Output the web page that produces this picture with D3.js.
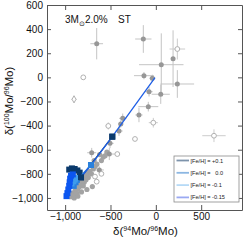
<!DOCTYPE html>
<html lang="en">
  <head>
    <meta charset="utf-8" />
    <title>Mo isotopes: 3Msun 2.0% ST</title>
    <script src="https://d3js.org/d3.v7.min.js"></script>
    <style type="text/css">
      body { margin: 0; background: #fff; }
      text { font-family: "Liberation Sans", Arial, sans-serif; }
    </style>
  </head>
  <body>
    <script type="text/javascript">
      //Width and height
      const w = 249;
      const h = 240;

      // axis ticks
      const xTicks = [-1000, -500, 0, 500];
      const yTicks = [-1000, -800, -600, -400, -200, 0, 200, 400, 600];

      // SiC grains with error bars (filled grey)
      const grainX = [-652, -138, 190, 60, -131, -39, 237, -75, 54, -83, -186, -365, -387, -406, -505, -513, -707, -623];
      const grainY = [279, 318, 155, 105, 14, -8, -55, -119, -140, -243, -312, -340, -387, -445, -547, -636, -625, -768];
      const grainEx = [70, 90, 20, 245, 110, 30, 185, 40, 100, 110, 40, 40, 30, 40, 40, 60, 50, 50];
      const grainEy = [130, 115, 235, 260, 30, 30, 115, 40, 80, 40, 60, 40, 30, 40, 40, 50, 40, 30];

      // grains without visible errors (grey cloud)
      const cloudX = [-940, -920, -905, -890, -880, -870, -860, -850, -840, -830, -815, -800, -790, -780, -770, -760, -745, -730, -710, -700, -690, -670, -650, -600, -580, -560, -540, -620, -680, -760, -820, -900, -860, -800];
      const cloudY = [-990, -960, -975, -940, -900, -960, -925, -880, -905, -860, -880, -840, -870, -820, -850, -800, -830, -780, -800, -906, -760, -740, -720, -690, -660, -650, -620, -640, -690, -930, -950, -1000, -985, -900];

      // open circles
      const openX = [-800, 237, -524, -28, -230, -425, -671, -652, 641, -600];
      const openY = [0, 235, -403, -376, -511, -636, -823, -865, -484, -800];
      const openEx = [0, 86, 30, 50, 0, 0, 0, 0, 129, 0];
      const openEy = [0, 87, 30, 40, 0, 0, 0, 0, 53, 0];

      // open diamonds
      const diamondX = [-902];
      const diamondY = [-182];
      const diamondEx = [30];
      const diamondEy = [30];

      // model tracks, [Fe/H] = +0.1, 0.0, -0.1, -0.15 (squares)
      const feLabels = ['[Fe/H] = +0.1', '[Fe/H] =   0.0', '[Fe/H] = -0.1', '[Fe/H] = -0.15'];
      const modelP01X = [-955, -925, -895, -865, -840, -825, -480];
      const modelP01Y = [-765, -755, -760, -772, -790, -829, -492];
      const modelZ00X = [-905, -885, -870, -715];
      const modelZ00Y = [-900, -870, -850, -727];
      const modelM01X = [-930, -910, -895, -880];
      const modelM01Y = [-880, -862, -848, -835];
      const modelM015X = [-985, -975, -965, -955, -950, -945, -935, -915];
      const modelM015Y = [-985, -960, -930, -900, -870, -840, -815, -805];
      // the long surface track
      const trackX = [-825, -715, -480, -9];
      const trackY = [-829, -727, -492, -3];

      const margin = { left: 47, right: 7, top: 5, bottom: 30 };

      const xScale = d3.scaleLinear().domain([-1200, 950]).range([margin.left, w - margin.right]);
      const yScale = d3.scaleLinear().domain([-1100, 600]).range([h - margin.bottom, margin.top]);

      //Create SVG element
      const svg = d3.select('body').append('svg').attr('width', w).attr('height', h);

      svg.append('clipPath').attr('id', 'clip')
        .append('rect')
        .attr('x', margin.left).attr('y', margin.top)
        .attr('width', w - margin.left - margin.right)
        .attr('height', h - margin.top - margin.bottom);

      const plot = svg.append('g').attr('clip-path', 'url(#clip)');

      const zip = (xs, ys, exs, eys) => xs.map((x, i) => ({ x: x, y: ys[i], ex: exs ? exs[i] : 0, ey: eys ? eys[i] : 0 }));

      const grains = zip(grainX, grainY, grainEx, grainEy);
      const opens = zip(openX, openY, openEx, openEy);
      const diamonds = zip(diamondX, diamondY, diamondEx, diamondEy);
      const cloud = zip(cloudX, cloudY);

      //Error bars
      function errorBars(data, color) {
        const g = plot.append('g').attr('stroke', color).attr('stroke-width', 1);
        g.selectAll('line.h').data(data.filter((d) => d.ex > 0)).enter().append('line')
          .attr('x1', (d) => xScale(d.x - d.ex)).attr('x2', (d) => xScale(d.x + d.ex))
          .attr('y1', (d) => yScale(d.y)).attr('y2', (d) => yScale(d.y));
        g.selectAll('line.v').data(data.filter((d) => d.ey > 0)).enter().append('line')
          .attr('x1', (d) => xScale(d.x)).attr('x2', (d) => xScale(d.x))
          .attr('y1', (d) => yScale(d.y - d.ey)).attr('y2', (d) => yScale(d.y + d.ey));
      }
      errorBars(grains, '#c4c4c4');
      errorBars(opens, '#cccccc');
      errorBars(diamonds, '#cccccc');

      plot.selectAll('circle.cloud').data(cloud).enter().append('circle')
        .attr('cx', (d) => xScale(d.x)).attr('cy', (d) => yScale(d.y))
        .attr('r', 2.6).attr('fill', '#a3a3a3');

      plot.selectAll('circle.grain').data(grains).enter().append('circle')
        .attr('cx', (d) => xScale(d.x)).attr('cy', (d) => yScale(d.y))
        .attr('r', 2.5).attr('fill', '#979797');

      plot.selectAll('circle.open').data(opens).enter().append('circle')
        .attr('cx', (d) => xScale(d.x)).attr('cy', (d) => yScale(d.y))
        .attr('r', 2.4).attr('fill', '#fff').attr('stroke', '#a8a8a8').attr('stroke-width', 0.9);

      plot.selectAll('path.diamond').data(diamonds).enter().append('path')
        .attr('d', d3.symbol().type(d3.symbolDiamond).size(14))
        .attr('transform', (d) => `translate(${xScale(d.x)},${yScale(d.y)})`)
        .attr('fill', '#fff').attr('stroke', '#a8a8a8').attr('stroke-width', 0.9);

      //Model tracks
      const line = d3.line().x((d) => xScale(d.x)).y((d) => yScale(d.y));
      const models = [
        { x: modelP01X, y: modelP01Y, color: '#0b3a6c' },
        { x: modelZ00X, y: modelZ00Y, color: '#2a80dc' },
        { x: modelM01X, y: modelM01Y, color: '#3f9cec' },
        { x: modelM015X, y: modelM015Y, color: '#0c56f0' },
      ];
      models.forEach((m) => {
        const pts = zip(m.x, m.y);
        plot.append('path').datum(pts).attr('d', line)
          .attr('fill', 'none').attr('stroke', m.color).attr('stroke-width', 1.2);
        plot.selectAll(null).data(pts).enter().append('rect')
          .attr('x', (d) => xScale(d.x) - 3).attr('y', (d) => yScale(d.y) - 3)
          .attr('width', 6).attr('height', 6).attr('fill', m.color);
      });
      plot.append('path').datum(zip(trackX, trackY)).attr('d', line)
        .attr('fill', 'none').attr('stroke', '#1f5fe6').attr('stroke-width', 1.3);
      // squares on the track drawn again on top
      plot.selectAll(null).data([{ x: -480, y: -492, c: '#0b3a6c' }, { x: -715, y: -727, c: '#2a80dc' }, { x: -825, y: -829, c: '#0b3a6c' }])
        .enter().append('rect')
        .attr('x', (d) => xScale(d.x) - 3).attr('y', (d) => yScale(d.y) - 3)
        .attr('width', 6).attr('height', 6).attr('fill', (d) => d.c);

      //Axes
      const x0 = margin.left, x1 = w - margin.right, y0 = h - margin.bottom, y1 = margin.top;
      const styleAxis = (g) => {
        g.selectAll('path').attr('stroke', '#555');
        g.selectAll('line').attr('stroke', '#555');
        g.selectAll('text').attr('font-size', '10px').attr('fill', '#111').attr('font-family', '"Liberation Sans", Arial, sans-serif');
      };
      svg.append('g').attr('transform', `translate(0,${y0})`)
        .call(d3.axisBottom(xScale).tickValues(xTicks).tickSizeInner(-5).tickSizeOuter(0).tickPadding(3))
        .call(styleAxis);
      svg.append('g').attr('transform', `translate(0,${y1})`)
        .call(d3.axisTop(xScale).tickValues(xTicks).tickSizeInner(-5).tickSizeOuter(0).tickFormat(''))
        .call(styleAxis);
      svg.append('g').attr('transform', `translate(${x0},0)`)
        .call(d3.axisLeft(yScale).tickValues(yTicks).tickSizeInner(-4).tickSizeOuter(0).tickPadding(4))
        .call(styleAxis);
      svg.append('g').attr('transform', `translate(${x1},0)`)
        .call(d3.axisRight(yScale).tickValues(yTicks).tickSizeInner(-4).tickSizeOuter(0).tickFormat(''))
        .call(styleAxis);
      svg.selectAll('.domain').attr('stroke', '#555').attr('stroke-width', 1);

      //Axis titles
      const xt = svg.append('text').attr('x', (x0 + x1) / 2 + 1).attr('y', 235)
        .attr('text-anchor', 'middle').attr('font-size', '11.5px').attr('fill', '#111');
      xt.append('tspan').text('δ(');
      xt.append('tspan').attr('font-size', '7px').attr('dy', -4).text('94');
      xt.append('tspan').attr('dy', 4).text('Mo/');
      xt.append('tspan').attr('font-size', '7px').attr('dy', -4).text('96');
      xt.append('tspan').attr('dy', 4).text('Mo)');

      const yt = svg.append('text').attr('transform', 'translate(13,101) rotate(-90)')
        .attr('text-anchor', 'middle').attr('font-size', '11.5px').attr('fill', '#111');
      yt.append('tspan').text('δ(');
      yt.append('tspan').attr('font-size', '7px').attr('dy', -4).text('100');
      yt.append('tspan').attr('dy', 4).text('Mo/');
      yt.append('tspan').attr('font-size', '7px').attr('dy', -4).text('96');
      yt.append('tspan').attr('dy', 4).text('Mo)');

      //Model label
      const lab = svg.append('text').attr('x', 65).attr('y', 23).attr('font-size', '10px').attr('fill', '#111');
      lab.append('tspan').text('3M');
      lab.append('tspan').attr('font-size', '7px').attr('dy', 2.5).text('⊙');
      lab.append('tspan').attr('dy', -2.5).text('2.0%');
      lab.append('tspan').attr('x', 118).text('ST');

      //Legend
      const legColors = ['#7d93ab', '#8cb7e2', '#b6daf6', '#9aa9f2'];
      const leg = svg.append('g');
      leg.append('rect').attr('x', 174).attr('y', 156).attr('width', 65).attr('height', 46)
        .attr('fill', '#fff').attr('stroke', '#8a8a8a').attr('stroke-width', 0.8);
      feLabels.forEach((t, i) => {
        const yy = 160.5 + i * 12.3;
        leg.append('line').attr('x1', 176.5).attr('x2', 189).attr('y1', yy).attr('y2', yy)
          .attr('stroke', legColors[i]).attr('stroke-width', 1.8);
        leg.append('text').attr('x', 190.5).attr('y', yy + 2).attr('font-size', '5.6px')
          .attr('fill', '#222').style('white-space', 'pre').text(t);
      });
    </script>
  </body>
</html>
